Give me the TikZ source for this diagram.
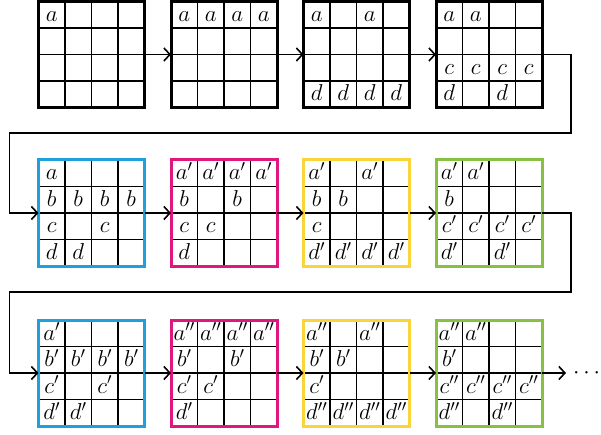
\RequirePackage{fix-cm}
\documentclass[tikz,border=0pt]{standalone}
\usetikzlibrary{arrows.meta}
\definecolor{cblue}{HTML}{1BA2DC}
\definecolor{cpink}{HTML}{E0177E}
\definecolor{cyellow}{HTML}{F9D43A}
\definecolor{cgreen}{HTML}{85C143}
\newcommand\cellgrid[5]{%
  \foreach \i in {1,2,3} {
    \draw[gridline] ({#2+\i*26.5},#3) -- ({#2+\i*26.5},{#3+106});
    \draw[gridline] (#2,{#3+\i*26.5}) -- ({#2+106},{#3+\i*26.5});
  }
  \foreach \c/\r/\t in {#5} {
    \node[lab] at ({#2+\c*26.5-13.25},{#3+\r*26.5-6.5}) {\fontsize{23}{27}\selectfont$\t$};
  }
  \node[gridframe, draw=#4] (#1) at ({#2+53},{#3+53}) {};
}
\begin{document}
\begin{tikzpicture}[x=1pt,y=-1pt,
  gridline/.style={line width=1.2pt, black},
  gridframe/.style={line width=3pt, minimum size=106pt, inner sep=0pt, outer sep=0pt, shape=rectangle},
  lab/.style={anchor=base, inner sep=0pt},
  conn/.style={line width=1.6pt, -{Straight Barb[length=6pt,width=13pt,line width=1.6pt]}}]
\useasboundingbox (0,0) rectangle (601,435);
% row 1
\cellgrid{g11}{38.5}{1.5}{black}{1/1/a}
\cellgrid{g12}{171}{1.5}{black}{1/1/a,2/1/a,3/1/a,4/1/a}
\cellgrid{g13}{303.5}{1.5}{black}{1/1/a,3/1/a,1/4/d,2/4/d,3/4/d,4/4/d}
\cellgrid{g14}{436}{1.5}{black}{1/1/a,2/1/a,1/3/c,2/3/c,3/3/c,4/3/c,1/4/d,3/4/d}
% row 2
\cellgrid{g21}{38.5}{160}{cblue}{1/1/a,1/2/b,2/2/b,3/2/b,4/2/b,1/3/c,3/3/c,1/4/d,2/4/d}
\cellgrid{g22}{171}{160}{cpink}{1/1/a',2/1/a',3/1/a',4/1/a',1/2/b,3/2/b,1/3/c,2/3/c,1/4/d}
\cellgrid{g23}{303.5}{160}{cyellow}{1/1/a',3/1/a',1/2/b,2/2/b,1/3/c,1/4/d',2/4/d',3/4/d',4/4/d'}
\cellgrid{g24}{436}{160}{cgreen}{1/1/a',2/1/a',1/2/b,1/3/c',2/3/c',3/3/c',4/3/c',1/4/d',3/4/d'}
% row 3
\cellgrid{g31}{38.5}{320}{cblue}{1/1/a',1/2/b',2/2/b',3/2/b',4/2/b',1/3/c',3/3/c',1/4/d',2/4/d'}
\cellgrid{g32}{171}{320}{cpink}{1/1/a'',2/1/a'',3/1/a'',4/1/a'',1/2/b',3/2/b',1/3/c',2/3/c',1/4/d'}
\cellgrid{g33}{303.5}{320}{cyellow}{1/1/a'',3/1/a'',1/2/b',2/2/b',1/3/c',1/4/d'',2/4/d'',3/4/d'',4/4/d''}
\cellgrid{g34}{436}{320}{cgreen}{1/1/a'',2/1/a'',1/2/b',1/3/c'',2/3/c'',3/3/c'',4/3/c'',1/4/d'',3/4/d''}
% arrows within rows
\draw[conn] (g11) -- (g12);
\draw[conn] (g12) -- (g13);
\draw[conn] (g13) -- (g14);
\draw[conn] (g21) -- (g22);
\draw[conn] (g22) -- (g23);
\draw[conn] (g23) -- (g24);
\draw[conn] (g31) -- (g32);
\draw[conn] (g32) -- (g33);
\draw[conn] (g33) -- (g34);
% wrap connectors
\coordinate (r1) at (571,133);
\coordinate (l1) at (9.5,133);
\coordinate (r2) at (571,292);
\coordinate (l2) at (9.5,292);
\draw[conn] (g14.east) -| (r1) -- (l1) |- (g21.west);
\draw[conn] (g24.east) -| (r2) -- (l2) |- (g31.west);
% continuation
\node[anchor=base west, inner sep=0pt] (dots) at (573,378) {\fontsize{23}{27}\selectfont$\cdots$};
\draw[conn] (g34.east) -- ([xshift=-7pt]dots.west |- g34.east);
\end{tikzpicture}
\end{document}
